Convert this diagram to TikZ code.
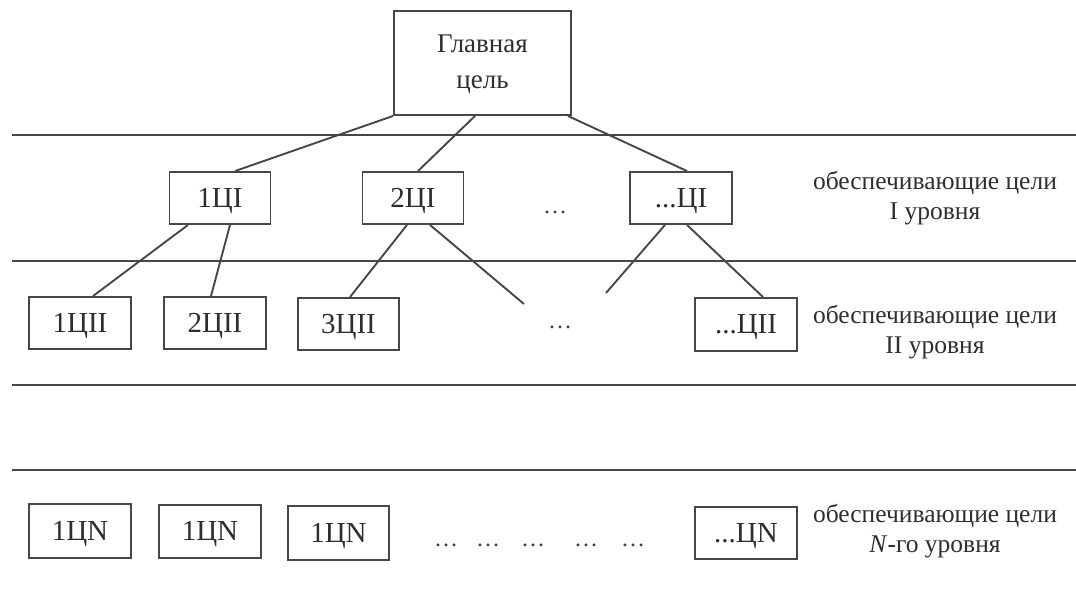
\documentclass[tikz,border=0pt]{standalone}
\usepackage{fontspec}
\setmainfont{Liberation Serif}
\begin{document}
\begin{tikzpicture}[x=1pt,y=-1pt,
  ln/.style={draw=black!72,line width=1.9pt},
  goal/.style={draw=black!72,line width=1.9pt,text=black!82,inner sep=0pt,
    minimum width=101pt,minimum height=52pt,text height=18pt,text depth=0pt,
    font=\fontsize{29}{33}\selectfont},
  lvl/.style={text=black!82,align=center,font=\fontsize{25.5}{30}\selectfont},
  dots/.style={text=black!75,font=\fontsize{24}{28}\selectfont,inner sep=0pt}]
\path[use as bounding box,fill=white] (0,0) rectangle (1076,591);
% horizontal lines
\coordinate (h1a) at (12,135); \coordinate (h1b) at (1076,135);
\coordinate (h2a) at (12,261); \coordinate (h2b) at (1076,261);
\coordinate (h3a) at (12,385); \coordinate (h3b) at (1076,385);
\coordinate (h4a) at (12,470); \coordinate (h4b) at (1076,470);
\draw[ln,line width=1.7pt] (h1a) -- (h1b) (h2a) -- (h2b) (h3a) -- (h3b) (h4a) -- (h4b);
% top
\node[goal,minimum width=177pt,minimum height=104pt,text height=,text depth=,font=\fontsize{27}{36}\selectfont] (top) at (482.5,63)
  {\raisebox{-4pt}{\begin{tabular}{@{}c@{}}Главная\\цель\end{tabular}}};
% level I
\node[goal] (a1) at (220,198) {1ЦI};
\node[goal] (a2) at (413,198) {2ЦI};
\node[goal,minimum width=102pt] (a3) at (681,198) {...ЦI};
\node[dots] (ad) at (555,212) {…};
% level II
\node[goal,minimum width=102pt] (b1) at (80,323) {1ЦII};
\node[goal,minimum width=102pt] (b2) at (215,323) {2ЦII};
\node[goal,minimum width=101pt] (b3) at (348.5,324) {3ЦII};
\node[goal,minimum width=102pt,minimum height=53pt] (b4) at (746,324.5) {...ЦII};
\node[dots] (bd) at (560,327) {…};
% level N
\node[goal,minimum width=102pt,minimum height=54pt] (n1) at (80,531) {1ЦN};
\node[goal,minimum width=102pt,minimum height=53pt] (n2) at (210,531.5) {1ЦN};
\node[goal,minimum width=101pt,minimum height=54pt] (n3) at (338.5,533) {1ЦN};
\node[goal,minimum width=102pt,minimum height=52pt] (n4) at (746,533) {...ЦN};
\node[dots] (nd1) at (446,545) {…};
\node[dots] (nd2) at (488,545) {…};
\node[dots] (nd3) at (533,545) {…};
\node[dots] (nd4) at (586,545) {…};
\node[dots] (nd5) at (633,545) {…};
% labels
\node[lvl] (l1) at (935,198) {обеспечивающие цели\\I уровня};
\node[lvl] (l2) at (935,332.5) {обеспечивающие цели\\II уровня};
\node[lvl] (l3) at (935,531) {обеспечивающие цели\\\textit{N}-го уровня};
% free ends
\coordinate (f1) at (524,304);
\coordinate (f2) at (606,293);
% connectors
\draw[ln] (top.south west) -- ([xshift=15pt]a1.north);
\draw[ln] ([xshift=-7.5pt]top.south) -- ([xshift=5pt]a2.north);
\draw[ln] ([xshift=-4pt]top.south east) -- ([xshift=6pt]a3.north);
\draw[ln] ([xshift=-32pt]a1.south) -- ([xshift=13pt]b1.north);
\draw[ln] ([xshift=10pt]a1.south) -- ([xshift=-4pt]b2.north);
\draw[ln] ([xshift=-6pt]a2.south) -- ([xshift=1.5pt]b3.north);
\draw[ln] ([xshift=17pt]a2.south) -- (f1);
\draw[ln] ([xshift=-16pt]a3.south) -- (f2);
\draw[ln] ([xshift=6pt]a3.south) -- ([xshift=17pt]b4.north);
\end{tikzpicture}
\end{document}
